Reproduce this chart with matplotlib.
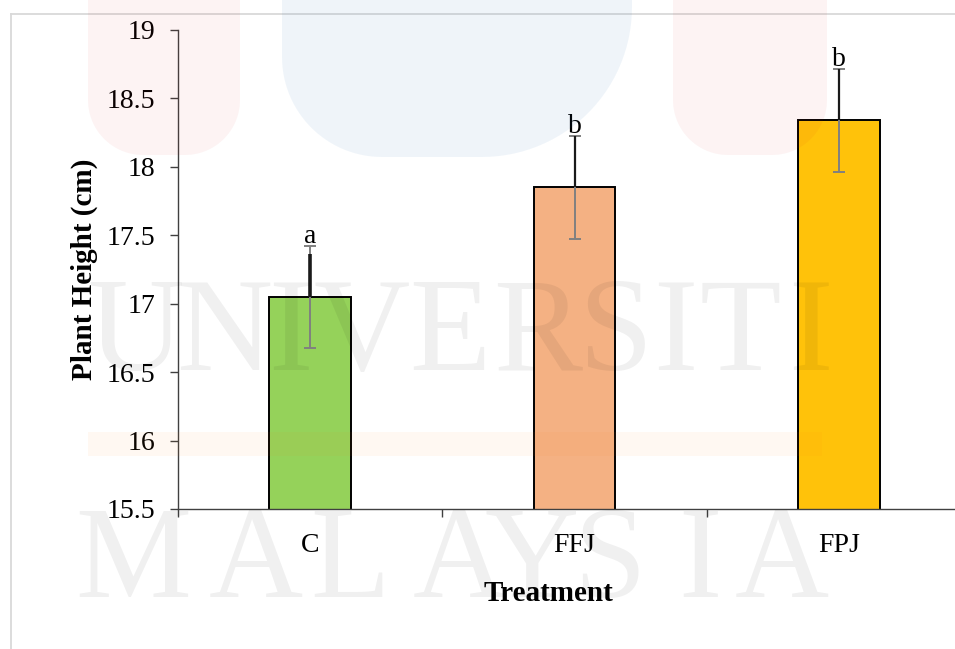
import matplotlib
matplotlib.use("Agg")
import matplotlib.pyplot as plt
from matplotlib.patches import Polygon, Rectangle
from matplotlib.lines import Line2D
import numpy as np

# Data
treatments = ["C", "FFJ", "FPJ"]
heights = [17.05, 17.85, 18.34]
errors = [0.37, 0.375, 0.375]
letters = ["a", "b", "b"]
yticks = [15.5, 16, 16.5, 17, 17.5, 18, 18.5, 19]

bar_colors = ["#95d25a", "#f4b183", "#ffc20a"]

W, H = 955, 649
plt.rcParams["font.family"] = ["Liberation Serif", "DejaVu Serif"]
fig = plt.figure(figsize=(W / 100, H / 100), dpi=100)
fig.patch.set_facecolor("white")


def fx(px):
    return px / W


def fy(py):
    return 1 - py / H


# plot area
ax = fig.add_axes([fx(178), fy(509), fx(793), 479 / H])
ax.patch.set_alpha(0)

xs = np.arange(len(treatments)) + 0.5
ax.bar(xs, heights, width=0.31, color=bar_colors, edgecolor="black",
       linewidth=1.4, zorder=2)
ax.errorbar(xs, heights, yerr=errors, fmt="none", ecolor="#808080",
            elinewidth=1.4, capsize=4.5, capthick=1.4, zorder=3)
upper_reach = [0.84, 1.0, 1.0]
upper_lw = [2.6, 1.6, 1.6]
for x, h, e, r, lw in zip(xs, heights, errors, upper_reach, upper_lw):
    ax.plot([x, x], [h, h + e * r], color="#1a1a1a", lw=lw,
            solid_capstyle="butt", zorder=4)
for x, h, e, t in zip(xs, heights, errors, letters):
    ax.annotate(t, (x, h + e), xytext=(0, 2.5), textcoords="offset points",
                ha="center", va="baseline", fontsize=20, zorder=5)

ax.set_xlim(0, 3)
ax.set_ylim(15.5, 19)
ax.set_yticks(yticks)
ax.set_yticklabels([f"{v:g}" for v in yticks])
ax.set_xticks([0, 1, 2, 3])
ax.set_xticklabels([])
ax.set_xticks(xs, minor=True)
ax.set_xticklabels(treatments, minor=True)
ax.tick_params(axis="y", length=5.8, width=1, pad=10.8, labelsize=20,
               color="#404040")
ax.tick_params(axis="x", which="major", length=5.8, width=1, color="#404040")
ax.tick_params(axis="x", which="minor", length=0, pad=17, labelsize=20)
for s in ["top", "right"]:
    ax.spines[s].set_visible(False)
for s in ["left", "bottom"]:
    ax.spines[s].set_color("#404040")
    ax.spines[s].set_linewidth(1.0)

ax.set_ylabel("Plant Height (cm)", fontsize=21, fontweight="bold")
ax.yaxis.set_label_coords(-0.101, 0.5)
ax.set_xlabel("Treatment", fontsize=21, fontweight="bold")
ax.xaxis.set_label_coords((548 - 178) / 793, -(601 - 509) / 479)
ax.xaxis.label.set_verticalalignment("baseline")

# outer frame
fig.add_artist(Line2D([fx(11), 1.0], [fy(14), fy(14)], color="#d9d9d9",
                      lw=1.3, transform=fig.transFigure, zorder=1))
fig.add_artist(Line2D([fx(11), fx(11)], [fy(14), 0.0], color="#d9d9d9",
                      lw=1.3, transform=fig.transFigure, zorder=1))


# faint background emblem
def u_shape(x0, x1, bottom, rl, rr, ryl, ryr, n=30):
    pts = [(x0, -5)]
    cxl, cyl = x0 + rl, bottom - ryl
    for t in np.linspace(np.pi, np.pi / 2, n):
        pts.append((cxl + rl * np.cos(t), cyl + ryl * np.sin(t)))
    cxr, cyr = x1 - rr, bottom - ryr
    for t in np.linspace(np.pi / 2, 0, n):
        pts.append((cxr + rr * np.cos(t), cyr + ryr * np.sin(t)))
    pts.append((x1, -5))
    return [(fx(a), fy(b)) for a, b in pts]


pink = (0.85, 0.1, 0.1)
blue = (0.1, 0.4, 0.7)
for x0, x1 in [(88, 240), (673, 827)]:
    fig.add_artist(Polygon(u_shape(x0, x1, 155, 55, 55, 55, 55), closed=True,
                           facecolor=pink, alpha=0.05, edgecolor="none",
                           transform=fig.transFigure, zorder=6))
fig.add_artist(Polygon(u_shape(282, 632, 157, 100, 150, 100, 150), closed=True,
                       facecolor=blue, alpha=0.065, edgecolor="none",
                       transform=fig.transFigure, zorder=6))
fig.add_artist(Rectangle((fx(88), fy(456)), fx(822) - fx(88), 24 / H,
                         facecolor=(1.0, 0.5, 0.1), alpha=0.055,
                         edgecolor="none", transform=fig.transFigure,
                         zorder=6))

word_top = "UNIVERSITI"
word_top_x = [135, 224, 290, 362, 450, 538, 615, 675, 740, 810]
word_bottom = "MALAYSIA"
word_bottom_x = [133, 256, 350, 460, 532, 610, 700, 782]
for ch, cx in zip(word_top, word_top_x):
    fig.text(fx(cx), fy(370), ch, fontsize=96, color="black", alpha=0.06,
             ha="center", va="baseline", zorder=7)
for ch, cx in zip(word_bottom, word_bottom_x):
    fig.text(fx(cx), fy(597), ch, fontsize=94, color="black", alpha=0.06,
             ha="center", va="baseline", zorder=7)

fig.savefig("out.png", dpi=100)
